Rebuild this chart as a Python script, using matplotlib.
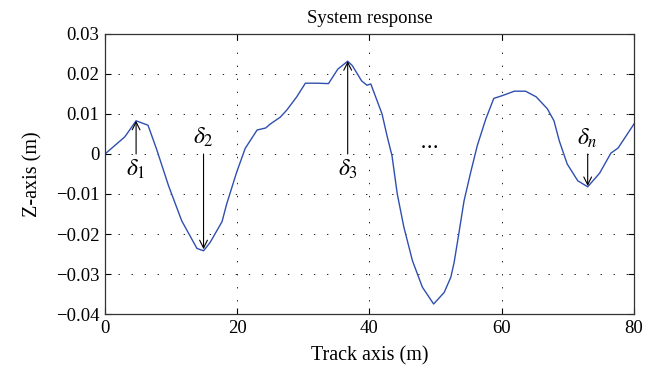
import matplotlib
matplotlib.use("Agg")
import matplotlib.pyplot as plt

plt.rcParams['font.family'] = ['Liberation Serif', 'DejaVu Serif']
plt.rcParams['mathtext.fontset'] = 'stix'
plt.rcParams['axes.unicode_minus'] = True

# Track position (m) and vertical response (m)
track_x = [0, 3.0, 4.7, 6.5, 7.8, 9.6, 11.6, 13.9, 14.9, 15.9, 17.7, 18.4, 19.9,
           21.2, 23.0, 24.3, 25.0, 26.5, 27.5, 29.0, 30.3, 32.1, 33.8, 35.2, 36.7,
           37.4, 38.8, 39.6, 40.2, 41.9, 42.7, 43.4, 44.2, 45.2, 46.5, 48.0, 49.7,
           51.3, 52.3, 52.8, 53.5, 54.3, 55.3, 56.3, 57.6, 58.8, 60.1, 61.9, 63.6,
           65.2, 66.9, 67.9, 68.7, 69.9, 71.5, 73.0, 74.8, 76.5, 77.6, 80.0]
z_resp = [0.0, 0.0043, 0.0083, 0.0072, 0.0012, -0.0079, -0.0167, -0.0236, -0.0242,
          -0.0221, -0.0169, -0.0125, -0.0046, 0.0014, 0.0060, 0.0065, 0.0075, 0.0092,
          0.0110, 0.0143, 0.0177, 0.0177, 0.0176, 0.0212, 0.0232, 0.0221, 0.0183,
          0.0172, 0.0175, 0.0100, 0.0042, -0.0004, -0.0100, -0.0183, -0.0267, -0.0333,
          -0.0375, -0.0346, -0.0308, -0.0271, -0.0200, -0.0117, -0.0046, 0.0021,
          0.0088, 0.0139, 0.0146, 0.0157, 0.0157, 0.0143, 0.0113, 0.0083, 0.0033,
          -0.0025, -0.0067, -0.0082, -0.0048, 0.0002, 0.0015, 0.0075]

# Peak markers: label, position, peak value, label height
delta_labels = [r'$\delta_1$', r'$\delta_2$', r'$\delta_3$', r'$\delta_n$']
delta_x = [4.7, 14.9, 36.7, 73.0]
delta_peak = [0.0083, -0.0238, 0.0232, -0.0080]
delta_text_y = [-0.0038, 0.0042, -0.0038, 0.0038]

x_ticks = [0, 20, 40, 60, 80]
y_ticks = [-0.04, -0.03, -0.02, -0.01, 0, 0.01, 0.02, 0.03]
y_ticklabels = ['\u22120.04', '\u22120.03', '\u22120.02', '\u22120.01', '0', '0.01', '0.02', '0.03']

fig = plt.figure(figsize=(6.58, 3.79), dpi=100)
ax = fig.add_axes([0.1596, 0.1715, 0.8039, 0.7388])

ax.plot(track_x, z_resp, color='#2f4fb0', lw=1.0)

for lab, xv, pv, ty in zip(delta_labels, delta_x, delta_peak, delta_text_y):
    ax.annotate('', xy=(xv, pv), xytext=(xv, 0),
                arrowprops=dict(arrowstyle='->', color='black', lw=0.8,
                                shrinkA=0, shrinkB=0, mutation_scale=14))
    ax.text(xv, ty, lab, ha='center', va='center', fontsize=17)

ax.text(49.0, 0.0022, r'$\cdots$', ha='center', va='center', fontsize=15)

ax.set_xlim(0, 80)
ax.set_ylim(-0.04, 0.03)
ax.set_xticks(x_ticks)
ax.set_yticks(y_ticks)
ax.set_yticklabels(y_ticklabels)
ax.tick_params(direction='in', top=True, right=True, labelsize=13.5, length=4,
               width=0.8, pad=4)
ax.grid(True, color='#222222', lw=0.7, linestyle=(0, (1.4, 12)))
for s in ax.spines.values():
    s.set_linewidth(0.9)
    s.set_color('#333333')

ax.set_title('System response', fontsize=13.5, pad=8)
ax.set_xlabel('Track axis (m)', fontsize=14.5, labelpad=7)
ax.set_ylabel('Z-axis (m)', fontsize=14.5, labelpad=10)

fig.savefig('out.png', dpi=100)
